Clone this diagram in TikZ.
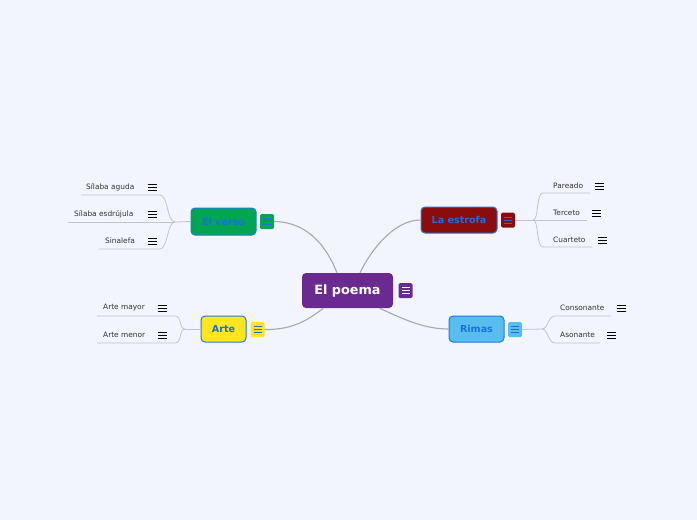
\documentclass[tikz,border=0pt]{standalone}
\usepackage{fontspec}
\setmainfont{DejaVu Sans}
\definecolor{bgc}{HTML}{F3F5FE}
\definecolor{purp}{HTML}{6B2A90}
\definecolor{grn}{HTML}{00A651}
\definecolor{dred}{HTML}{8A0C0C}
\definecolor{yel}{HTML}{FFE61E}
\definecolor{lblue}{HTML}{58BEEF}
\definecolor{bblue}{HTML}{1E78E6}
\definecolor{tblue}{HTML}{1A6FE0}
\definecolor{mainline}{HTML}{A8A8A8}
\definecolor{leafl}{HTML}{C4C4C8}
\definecolor{leaftxt}{HTML}{333333}
\tikzset{
  rootbox/.style={fill=purp, rounded corners=4pt, minimum width=91pt, minimum height=35pt, inner sep=0pt, text=white, font=\fontsize{12.8}{14}\selectfont\bfseries},
  branchbox/.style={fill=#1, draw=bblue, line width=1pt, rounded corners=4pt, minimum height=26pt, inner sep=0pt, text=tblue, font=\fontsize{9.6}{11}\selectfont\bfseries},
  noteicon/.style 2 args={fill=#1, rounded corners=1.5pt, minimum width=14pt, minimum height=15pt, inner sep=0pt,
    path picture={\draw[#2, line width=0.8pt] ([xshift=-4pt,yshift=3pt]path picture bounding box.center) -- ++(8pt,0pt)
      ([xshift=-4pt]path picture bounding box.center) -- ++(8pt,0pt)
      ([xshift=-4pt,yshift=-3pt]path picture bounding box.center) -- ++(8pt,0pt);}},
  leaficon/.style={minimum width=10pt, minimum height=9pt, inner sep=0pt,
    path picture={\draw[black, line width=0.9pt] ([xshift=-4.5pt,yshift=3pt]path picture bounding box.center) -- ++(9pt,0pt)
      ([xshift=-4.5pt]path picture bounding box.center) -- ++(9pt,0pt)
      ([xshift=-4.5pt,yshift=-3pt]path picture bounding box.center) -- ++(9pt,0pt);}},
  leaftext/.style={anchor=west, inner sep=0pt, text=leaftxt, font=\fontsize{7.4}{8}\selectfont},
  mainconn/.style={draw=mainline, line width=1.1pt},
  leafconn/.style={draw=leafl, line width=0.8pt},
}
\begin{document}
\begin{tikzpicture}[x=1pt,y=-1pt]
\useasboundingbox[fill=bgc] (0,0) rectangle (697,520);

% root and branches
\node[rootbox] (poema) at (347.5,290.5) {El poema};
\node[noteicon={purp}{white}] (ipoema) at (405.5,290.5) {};
\node[branchbox=grn, minimum width=65pt, minimum height=27pt] (verso) at (223.5,221.5) {El verso};
\node[noteicon={grn}{tblue}] (iverso) at (267,221.5) {};
\node[branchbox=dred, minimum width=76pt] (estrofa) at (459,220) {La estrofa};
\node[noteicon={dred}{tblue}] (iestrofa) at (508,220) {};
\node[branchbox=yel, minimum width=45pt] (arte) at (223.5,329) {Arte};
\node[noteicon={yel}{tblue}] (iarte) at (257.5,329.5) {};
\node[branchbox=lblue, minimum width=55pt] (rimas) at (476.5,329) {Rimas};
\node[noteicon={lblue}{tblue}] (irimas) at (515,329.5) {};

% main connectors
\draw[mainconn] (iverso.east) .. controls (310,222) and (328,250) .. ([xshift=-10.5pt]poema.north);
\draw[mainconn] ([xshift=12.5pt]poema.north) .. controls (372,248) and (395,220) .. (estrofa.west);
\draw[mainconn] (iarte.east) .. controls (295,330) and (310,318) .. ([xshift=-24pt]poema.south);
\draw[mainconn] ([xshift=32pt]poema.south) .. controls (405,320) and (425,329) .. (rimas.west);

% El verso leaves
\coordinate (jv) at (175,222);
\node[leaftext] (l1) at (86,187) {Sílaba aguda};
\node[leaficon] (l1i) at (152,187) {};
\node[leaftext] (l2) at (74,214) {Sílaba esdrújula};
\node[leaficon] (l2i) at (152,214) {};
\node[leaftext] (l3) at (105,241) {Sinalefa};
\node[leaficon] (l3i) at (152,241) {};
\coordinate (u1a) at (160,195); \coordinate (u1b) at (81,195);
\coordinate (u2b) at (68,222);
\coordinate (u3a) at (160,249); \coordinate (u3b) at (99,249);
\draw[leafconn] (verso.west) -- (jv);
\draw[leafconn] (jv) .. controls +(-8,0) and +(8,0) .. (u1a) -- (u1b);
\draw[leafconn] (jv) -- (u2b);
\draw[leafconn] (jv) .. controls +(-8,0) and +(8,0) .. (u3a) -- (u3b);

% La estrofa leaves
\coordinate (je) at (533,220);
\node[leaftext] (e1) at (553,186) {Pareado};
\node[leaficon] (e1i) at (599,186) {};
\node[leaftext] (e2) at (553,213) {Terceto};
\node[leaficon] (e2i) at (596,213) {};
\node[leaftext] (e3) at (553,240) {Cuarteto};
\node[leaficon] (e3i) at (602,240) {};
\coordinate (v1a) at (543,193); \coordinate (v1b) at (590,193);
\coordinate (v2b) at (587,220);
\coordinate (v3a) at (543,247); \coordinate (v3b) at (592,247);
\draw[leafconn] (iestrofa.east) -- (je);
\draw[leafconn] (je) .. controls +(6,0) and +(-7,0) .. (v1a) -- (v1b);
\draw[leafconn] (je) -- (v2b);
\draw[leafconn] (je) .. controls +(6,0) and +(-7,0) .. (v3a) -- (v3b);

% Arte leaves
\coordinate (ja) at (185,329);
\node[leaftext] (a1) at (103,308) {Arte mayor};
\node[leaficon] (a1i) at (162,308) {};
\node[leaftext] (a2) at (103,335) {Arte menor};
\node[leaficon] (a2i) at (162,335) {};
\coordinate (w1a) at (175,316); \coordinate (w1b) at (97,316);
\coordinate (w2a) at (175,343); \coordinate (w2b) at (97,343);
\draw[leafconn] (arte.west) -- (ja);
\draw[leafconn] (ja) .. controls +(-6,0) and +(7,0) .. (w1a) -- (w1b);
\draw[leafconn] (ja) .. controls +(-6,0) and +(7,0) .. (w2a) -- (w2b);

% Rimas leaves
\coordinate (jr) at (542,329);
\node[leaftext] (r1) at (560,308) {Consonante};
\node[leaficon] (r1i) at (621,308) {};
\node[leaftext] (r2) at (560,335) {Asonante};
\node[leaficon] (r2i) at (611,335) {};
\coordinate (x1a) at (555,316); \coordinate (x1b) at (611,316);
\coordinate (x2a) at (555,343); \coordinate (x2b) at (600,343);
\draw[leafconn] (irimas.east) -- (jr);
\draw[leafconn] (jr) .. controls +(6,0) and +(-7,0) .. (x1a) -- (x1b);
\draw[leafconn] (jr) .. controls +(6,0) and +(-7,0) .. (x2a) -- (x2b);
\end{tikzpicture}
\end{document}
